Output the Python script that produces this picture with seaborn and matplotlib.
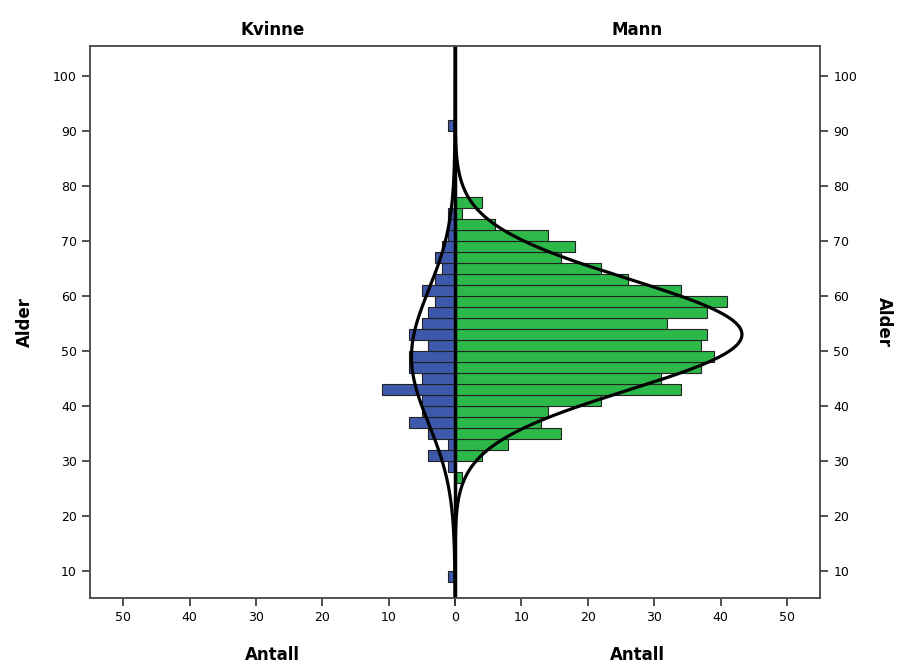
import numpy as np
import pandas as pd
import matplotlib
matplotlib.use('Agg')
import matplotlib.pyplot as plt
import seaborn as sns

# age bins are 2 years wide, keyed by lower edge
kvinne_alder = [8, 28, 30, 32, 34, 36, 38, 40, 42, 44, 46, 48, 50, 52, 54,
                56, 58, 60, 62, 64, 66, 68, 70, 72, 74, 90]
kvinne_antall = [1, 1, 4, 1, 4, 7, 5, 5, 11, 5, 7, 7, 4, 7, 5,
                 4, 3, 5, 3, 2, 3, 2, 1, 1, 1, 1]

mann_alder = [26, 28, 30, 32, 34, 36, 38, 40, 42, 44, 46, 48, 50, 52, 54,
              56, 58, 60, 62, 64, 66, 68, 70, 72, 74, 76]
mann_antall = [1, 0, 4, 8, 16, 13, 14, 22, 34, 31, 37, 39, 37, 38, 32,
               38, 41, 34, 26, 22, 16, 18, 14, 6, 1, 4]

x_ticks = [0, 10, 20, 30, 40, 50]

BIN = 2
BLUE = '#3E58AC'
GREEN = '#2DB84A'

sns.set_theme(style='ticks')
plt.rcParams['font.family'] = ['DejaVu Sans']
plt.rcParams['text.color'] = 'black'
plt.rcParams['axes.labelcolor'] = 'black'


def normal_curve(lows, counts, ages):
    mids = np.asarray(lows) + BIN / 2
    c = np.asarray(counts, dtype=float)
    n = c.sum()
    mu = (mids * c).sum() / n
    sd = np.sqrt((c * (mids - mu) ** 2).sum() / (n - 1))
    pdf = np.exp(-0.5 * ((ages - mu) / sd) ** 2) / (sd * np.sqrt(2 * np.pi))
    return n * BIN * pdf


fig = plt.figure(figsize=(9, 6.67), dpi=100)
ax_l = fig.add_axes([0.1, 0.1034, 0.4056, 0.8276])
ax_r = fig.add_axes([0.5056, 0.1034, 0.4056, 0.8276])

ages = np.linspace(5, 105.5, 400)

panels = [
    (ax_l, kvinne_alder, kvinne_antall, BLUE, 'Kvinne'),
    (ax_r, mann_alder, mann_antall, GREEN, 'Mann'),
]

for ax, lows, counts, color, title in panels:
    df = pd.DataFrame({'alder': np.asarray(lows) + BIN / 2,
                       'antall': np.asarray(counts, dtype=float)})
    sns.histplot(data=df, y='alder', weights='antall', binwidth=BIN,
                 binrange=(8, 92), ax=ax, color=color, alpha=1,
                 edgecolor='#222222', linewidth=0.8)
    ax.plot(normal_curve(lows, counts, ages), ages, color='black', lw=2.3)
    ax.axvline(0, color='black', lw=2.5)
    ax.set_xlim(0, 55)
    ax.set_ylim(5, 105.5)
    ax.set_xticks(x_ticks)
    ax.set_yticks(range(10, 101, 10))
    ax.set_title(title, fontsize=12, fontweight='bold', pad=8)
    ax.set_xlabel('Antall', fontsize=12, fontweight='bold', labelpad=16)
    ax.tick_params(axis='both', labelsize=9, colors='#333333',
                   labelcolor='black', length=6, width=1.2, direction='out')
    for s in ax.spines.values():
        s.set_visible(True)
        s.set_color('#444444')
        s.set_linewidth(1.3)

ax_l.invert_xaxis()
ax_l.set_ylabel('Alder', fontsize=12, fontweight='bold', labelpad=14)
ax_l.spines['right'].set_visible(False)

# the shared 0 is labelled once, by the left panel
ax_r.set_xticklabels([''] + [str(t) for t in x_ticks[1:]])
ax_r.spines['left'].set_visible(False)
ax_r.yaxis.tick_right()
ax_r.yaxis.set_label_position('right')
ax_r.set_ylabel('Alder', fontsize=12, fontweight='bold', rotation=270,
                labelpad=26)
ax_r.tick_params(axis='y', left=False, right=True)

fig.savefig('out.png', dpi=100)
